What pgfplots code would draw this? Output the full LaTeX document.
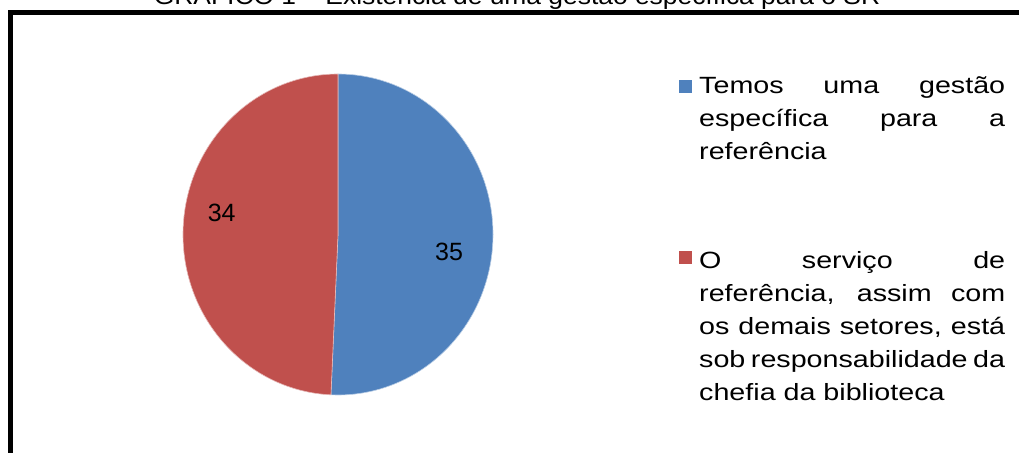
\documentclass[border=0pt]{standalone}
\usepackage{fontspec}
\setmainfont{Liberation Sans}
\newfontfamily\legendfont[FakeStretch=1.22]{Liberation Sans}
\newfontfamily\titlefont[FakeStretch=1.1]{Liberation Sans}
\usepackage{pgfplots}
\usepackage{pgfplotstable}
\pgfplotsset{compat=1.18}
\definecolor{sliceblue}{HTML}{4F81BD}
\definecolor{slicered}{HTML}{C0504D}
\pgfplotstableread{
label value
A 35
B 34
}\piedata
\begin{document}
\begin{tikzpicture}[x=1pt,y=1pt]
\useasboundingbox (0,0) rectangle (1019,452);
\clip (0,0) rectangle (1019,452);
\pgfplotstablegetelem{0}{value}\of\piedata \let\va\pgfplotsretval
\pgfplotstablegetelem{1}{value}\of\piedata \let\vb\pgfplotsretval
\pgfmathsetmacro\total{\va+\vb}
\pgfmathsetmacro\angmid{90-360*\va/\total}
\begin{axis}[at={(0,0)}, anchor=south west, scale only axis,
  width=1019pt, height=452pt, xmin=0, xmax=1019, ymin=0, ymax=452,
  y dir=reverse, hide axis, clip=false]
% frame
\draw[line width=5.5pt] (axis cs:10.25,480) -- (axis cs:10.25,12.5) -- (axis cs:1040,12.5);
% title (cut at top, as in the reference)
\node[anchor=base, font=\titlefont\fontsize{24}{28}\selectfont] at (axis cs:517,5) {GRÁFICO 1 – Existência de uma gestão específica para o SR};
% pie slices
\fill[sliceblue, draw=white!60!sliceblue, line width=0.6pt] (axis cs:338,234.5) -- (axis cs:338,74) arc[start angle=90, end angle=\angmid, x radius=155pt, y radius=160.5pt] -- cycle;
\fill[slicered, draw=white!60!slicered, line width=0.6pt] (axis cs:338,234.5) -- +(\angmid:155pt and 160.5pt) arc[start angle=\angmid, end angle=-270, x radius=155pt, y radius=160.5pt] -- cycle;
% data labels
\node[font=\fontsize{25}{30}\selectfont] at (axis cs:449,251.7) {\va};
\node[font=\fontsize{25}{30}\selectfont] at (axis cs:221.7,212.8) {\vb};
% legend
\fill[sliceblue] (axis cs:678.5,80) rectangle (axis cs:691.5,93);
\fill[slicered] (axis cs:678.5,251) rectangle (axis cs:691.5,264);
\begin{scope}[every node/.style={anchor=base west, inner sep=0pt, font=\legendfont\fontsize{23.5}{33}\selectfont}]
\node at (axis cs:699,93) {\makebox[306pt][s]{Temos uma gestão}};
\node at (axis cs:699,126) {\makebox[306pt][s]{específica para a}};
\node at (axis cs:699,159) {referência};
\node at (axis cs:699,268) {\makebox[306pt][s]{O serviço de}};
\node at (axis cs:699,301) {\makebox[306pt][s]{referência, assim com}};
\node at (axis cs:699,334) {\makebox[306pt][s]{os demais setores, está}};
\node at (axis cs:699,367) {\makebox[306pt][s]{sob responsabilidade da}};
\node at (axis cs:699,400) {chefia da biblioteca};
\end{scope}
\end{axis}
\end{tikzpicture}
\end{document}
